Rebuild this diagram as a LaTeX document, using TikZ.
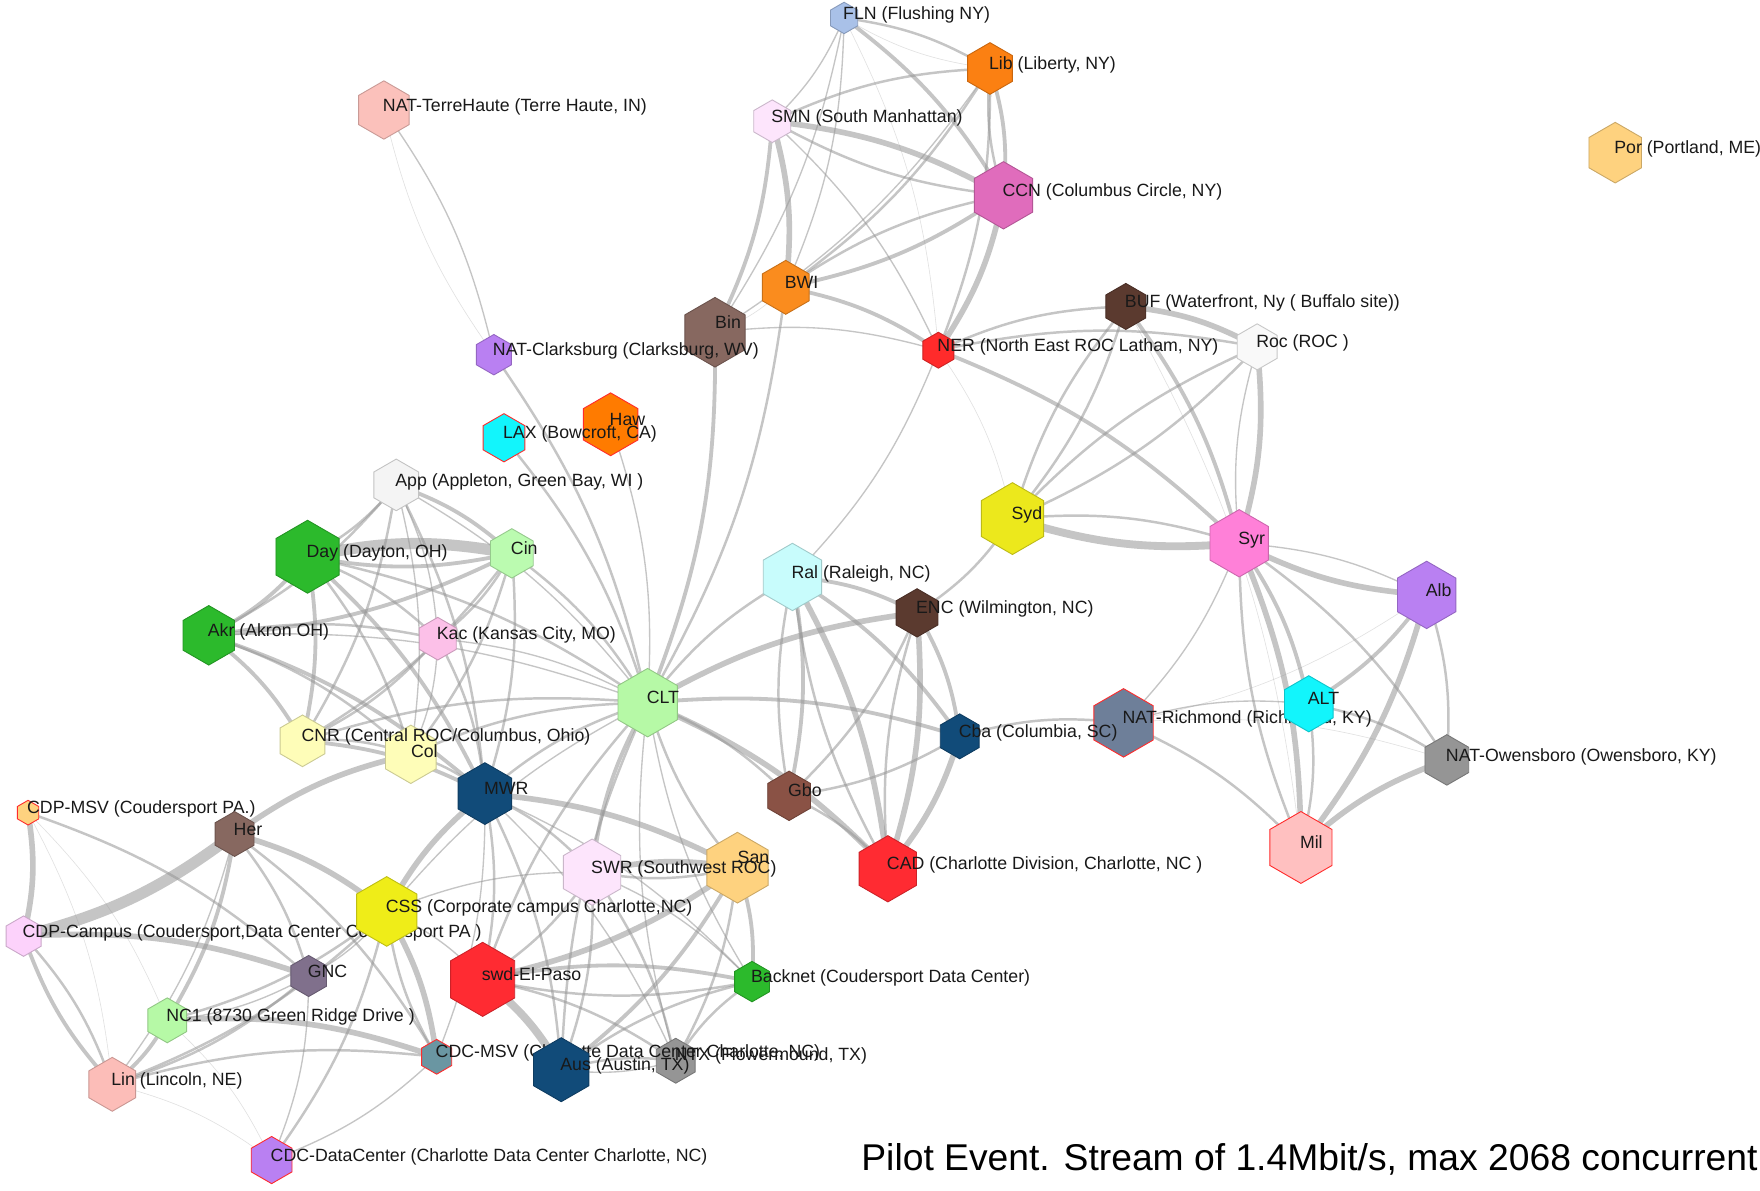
\documentclass[tikz,border=0pt]{standalone}
\usepackage{fontspec}
\setmainfont{Liberation Sans}
\definecolor{edgec}{RGB}{150,150,150}
\definecolor{redb}{HTML}{FF2B2B}
\definecolor{cFLN}{HTML}{A9C1E8}
\definecolor{cLib}{HTML}{FB8012}
\definecolor{cTerre}{HTML}{FBC1BB}
\definecolor{cSMN}{HTML}{FDE5FC}
\definecolor{cPor}{HTML}{FED27F}
\definecolor{cCCN}{HTML}{E06CBC}
\definecolor{cBWI}{HTML}{FA8C1E}
\definecolor{cBin}{HTML}{876860}
\definecolor{cBUF}{HTML}{5B3A2F}
\definecolor{cRoc}{HTML}{F9F9F9}
\definecolor{cNER}{HTML}{FF2B2B}
\definecolor{cPurp}{HTML}{B980F2}
\definecolor{cHaw}{HTML}{FF7B00}
\definecolor{cCyan}{HTML}{12F5FC}
\definecolor{cApp}{HTML}{F4F4F4}
\definecolor{cSyd}{HTML}{ECE81C}
\definecolor{cSyr}{HTML}{FF80D8}
\definecolor{cGreen}{HTML}{2CBA2C}
\definecolor{cCin}{HTML}{BBFBB0}
\definecolor{cRal}{HTML}{C8FCFC}
\definecolor{cKac}{HTML}{FCC0E8}
\definecolor{cCLT}{HTML}{B6F9A6}
\definecolor{cRich}{HTML}{6E7F99}
\definecolor{cBlue}{HTML}{114B79}
\definecolor{cGray}{HTML}{959595}
\definecolor{cYel}{HTML}{FEFDB8}
\definecolor{cGbo}{HTML}{8A5245}
\definecolor{cMil}{HTML}{FFC0C0}
\definecolor{cRed}{HTML}{FF2B32}
\definecolor{cCSS}{HTML}{EFED18}
\definecolor{cCamp}{HTML}{FCD2FB}
\definecolor{cGNC}{HTML}{80708C}
\definecolor{cMSV}{HTML}{6A96A2}
\definecolor{cLin}{HTML}{FCBDB8}
\newcommand\hx[4]{\filldraw[fill=#3, draw=#4, line width=0.8pt, shift={(#1)}] (90:#2) -- (150:#2) -- (210:#2) -- (270:#2) -- (330:#2) -- (30:#2) -- cycle;}
\newcommand\hn[3]{\hx{#1}{#2}{#3}{#3!80!black}}
\newcommand\hr[3]{\hx{#1}{#2}{#3}{redb}}
\newcommand\lb[2]{\node[lbl] (#1-l) at ([xshift=-1pt,yshift=-1pt]#1) {#2};}
\newcommand\E[3]{\draw[e#1] (#2) to[bend left=11] (#3);}
\begin{document}
\begin{tikzpicture}[x=1pt,y=-1pt,
  lbl/.style={font=\fontsize{15.8}{18}\selectfont, inner sep=0pt, anchor=base west, text=black!90},
  ed/.style={draw=edgec, line cap=round, opacity=0.55},
  eA/.style={ed, line width=0.5pt, opacity=0.3},
  eB/.style={ed, line width=1.2pt},
  eC/.style={ed, line width=2.2pt},
  eD/.style={ed, line width=3.4pt},
  eE/.style={ed, line width=5pt},
  eF/.style={ed, line width=7pt},
  eG/.style={ed, line width=10pt}]
\useasboundingbox (0,0) rectangle (1568,1061);
\fill[white] (0,0) rectangle (1568,1061);
% centres
\coordinate (FLN) at (752,16);
\coordinate (Lib) at (882,61);
\coordinate (Terre) at (342,98);
\coordinate (SMN) at (688,108);
\coordinate (Por) at (1439,136);
\coordinate (CCN) at (894,174);
\coordinate (BWI) at (700,256);
\coordinate (Bin) at (637,296);
\coordinate (BUF) at (1003,273);
\coordinate (Roc) at (1120,309);
\coordinate (NER) at (836,312);
\coordinate (Clarks) at (440,316);
\coordinate (Haw) at (544,378);
\coordinate (LAX) at (449,390);
\coordinate (App) at (353,432);
\coordinate (Syd) at (902,462);
\coordinate (Syr) at (1104,484);
\coordinate (Day) at (274,496);
\coordinate (Cin) at (456,493);
\coordinate (Ral) at (706,514);
\coordinate (Alb) at (1271,530);
\coordinate (ENC) at (817,546);
\coordinate (Akr) at (186,566);
\coordinate (Kac) at (390,569);
\coordinate (CLT) at (577,626);
\coordinate (ALT) at (1166,627);
\coordinate (Rich) at (1001,644);
\coordinate (Cba) at (855,656);
\coordinate (Owen) at (1289,677);
\coordinate (CNR) at (269.5,660);
\coordinate (Col) at (366,672);
\coordinate (MWR) at (432,707);
\coordinate (Gbo) at (703,709);
\coordinate (CDPMSV) at (25,724);
\coordinate (Her) at (209,743);
\coordinate (Mil) at (1159,755);
\coordinate (CAD) at (791,774);
\coordinate (SWR) at (527.5,777);
\coordinate (San) at (657,773);
\coordinate (CSS) at (344.5,812);
\coordinate (Camp) at (21,834);
\coordinate (GNC) at (275,869.5);
\coordinate (swd) at (430,872.5);
\coordinate (Back) at (670,874.5);
\coordinate (NC1) at (149,909);
\coordinate (CDCMSV) at (389,941.5);
\coordinate (Aus) at (500,953);
\coordinate (NTX) at (602,945);
\coordinate (Lin) at (100,966);
\coordinate (CDCDC) at (242,1033.5);
% edges: NY
\E{C}{FLN}{Lib} \E{A}{Lib}{FLN}
\E{B}{FLN}{SMN} \E{D}{FLN}{CCN} \E{B}{FLN}{BWI} \E{A}{FLN}{NER} \E{B}{FLN}{Bin}
\E{C}{SMN}{Lib} \E{D}{Lib}{CCN} \E{C}{CCN}{Lib} \E{C}{Lib}{BWI} \E{C}{Lib}{NER} \E{B}{Lib}{Bin}
\E{E}{SMN}{CCN} \E{C}{CCN}{SMN} \E{E}{SMN}{BWI} \E{B}{SMN}{NER} \E{D}{SMN}{Bin}
\E{D}{CCN}{BWI} \E{C}{BWI}{CCN} \E{E}{CCN}{NER} \E{D}{BWI}{NER} \E{A}{BWI}{Bin}
\E{C}{BWI}{CLT} \E{D}{Bin}{CLT} \E{B}{Bin}{NER}
\E{C}{NER}{Roc} \E{C}{NER}{BUF} \E{D}{NER}{Syr} \E{A}{NER}{Syd} \E{B}{NER}{Ral}
\E{E}{BUF}{Roc} \E{C}{BUF}{Syd} \E{C}{Syd}{BUF} \E{D}{BUF}{Syr} \E{A}{BUF}{Mil}
\E{C}{Roc}{Syd} \E{C}{Syd}{Roc} \E{E}{Roc}{Syr} \E{B}{Syr}{Roc}
\E{F}{Syr}{Syd} \E{C}{Syd}{Syr} \E{C}{Syd}{ENC}
\E{E}{Alb}{Syr} \E{B}{Syr}{Alb} \E{D}{Syr}{ALT} \E{E}{Syr}{Mil} \E{C}{Mil}{Syr}
\E{C}{Syr}{Owen} \E{B}{Syr}{Rich}
\E{D}{Alb}{ALT} \E{E}{Alb}{Mil} \E{C}{Alb}{Owen} \E{A}{Alb}{Rich}
\E{C}{ALT}{Mil} \E{C}{ALT}{Owen} \E{B}{Rich}{ALT} \E{C}{Rich}{Mil} \E{A}{Rich}{Owen}
\E{E}{Mil}{Owen} \E{C}{Cba}{Rich}
% NC
\E{C}{CLT}{Ral} \E{E}{CLT}{ENC} \E{D}{CLT}{Cba} \E{C}{CLT}{Gbo} \E{E}{CLT}{CAD}
\E{D}{Ral}{ENC} \E{D}{Ral}{Cba} \E{D}{Ral}{Gbo} \E{C}{Gbo}{Ral} \E{E}{Ral}{CAD} \E{C}{CAD}{Ral}
\E{D}{ENC}{Cba} \E{C}{ENC}{Gbo} \E{E}{ENC}{CAD} \E{C}{CAD}{ENC}
\E{C}{Cba}{Gbo} \E{E}{Cba}{CAD} \E{C}{Gbo}{CAD}
% Midwest
\E{C}{App}{Day} \E{D}{App}{Cin} \E{C}{App}{Akr} \E{B}{App}{Kac} \E{C}{App}{CNR} \E{B}{App}{Col} \E{C}{App}{MWR} \E{B}{App}{CLT}
\E{G}{Day}{Cin} \E{D}{Cin}{Day}
\E{D}{Day}{Akr} \E{C}{Day}{Kac} \E{D}{Day}{CNR} \E{C}{Day}{Col} \E{D}{Day}{MWR} \E{C}{Day}{CLT}
\E{D}{Cin}{Akr} \E{C}{Cin}{Kac} \E{C}{Cin}{CNR} \E{C}{Cin}{Col} \E{C}{Cin}{MWR} \E{C}{Cin}{CLT}
\E{C}{Akr}{Kac} \E{D}{Akr}{CNR} \E{C}{Akr}{Col} \E{D}{Akr}{MWR} \E{B}{Akr}{CLT}
\E{C}{Kac}{CNR} \E{B}{Kac}{Col} \E{C}{Kac}{MWR} \E{B}{Kac}{CLT}
\E{C}{CNR}{Col} \E{D}{CNR}{MWR} \E{C}{CNR}{CLT}
\E{C}{Col}{MWR} \E{C}{Col}{CLT} \E{C}{MWR}{CLT}
\E{C}{Clarks}{CLT} \E{C}{LAX}{CLT} \E{B}{Haw}{CLT} \E{B}{Terre}{Clarks} \E{A}{Clarks}{Terre}
% South / West
\E{E}{CDPMSV}{Camp} \E{C}{CDPMSV}{GNC} \E{A}{CDPMSV}{Lin} \E{A}{CDPMSV}{NC1}
\E{G}{Her}{Camp} \E{E}{Her}{Col} \E{E}{Her}{CSS} \E{C}{Her}{GNC} \E{D}{Her}{NC1} \E{B}{Her}{Lin} \E{C}{Her}{CDCMSV}
\E{E}{Camp}{GNC} \E{C}{Camp}{Lin} \E{D}{Lin}{Camp}
\E{B}{CSS}{GNC} \E{C}{CSS}{NC1} \E{C}{CSS}{Lin} \E{E}{CSS}{CDCMSV} \E{C}{CDCMSV}{CSS} \E{C}{CSS}{CDCDC}
\E{E}{CSS}{MWR} \E{B}{CSS}{swd} \E{B}{CSS}{SWR} \E{B}{CSS}{CLT}
\E{B}{GNC}{NC1} \E{C}{GNC}{Lin} \E{B}{GNC}{CDCDC}
\E{E}{NC1}{CDCMSV} \E{D}{NC1}{Lin} \E{A}{NC1}{CDCDC}
\E{C}{Lin}{CDCMSV} \E{A}{Lin}{CDCDC} \E{B}{CDCMSV}{CDCDC}
\E{C}{MWR}{swd} \E{C}{MWR}{SWR} \E{E}{MWR}{San} \E{C}{MWR}{Aus} \E{B}{MWR}{NTX} \E{B}{MWR}{Back} \E{B}{MWR}{CDCMSV}
\E{E}{SWR}{San} \E{C}{San}{SWR} \E{C}{SWR}{swd} \E{C}{SWR}{Aus} \E{C}{SWR}{NTX} \E{B}{SWR}{Back} \E{D}{SWR}{CLT}
\E{E}{San}{swd} \E{D}{San}{Aus} \E{C}{San}{NTX} \E{D}{San}{Back} \E{C}{San}{CLT}
\E{F}{swd}{Aus} \E{C}{swd}{NTX} \E{D}{swd}{Back} \E{C}{Back}{swd} \E{C}{swd}{CLT}
\E{C}{Aus}{NTX} \E{B}{NTX}{Aus} \E{C}{Aus}{Back} \E{C}{Aus}{CLT}
\E{C}{NTX}{Back} \E{B}{NTX}{CLT} \E{B}{Back}{CLT}
% nodes
\hn{FLN}{14}{cFLN} \lb{FLN}{FLN (Flushing NY)}
\hn{Lib}{23}{cLib} \lb{Lib}{Lib (Liberty, NY)}
\hn{Terre}{26}{cTerre} \lb{Terre}{NAT-TerreHaute (Terre Haute, IN)}
\hn{SMN}{19}{cSMN} \lb{SMN}{SMN (South Manhattan)}
\hn{Por}{27}{cPor} \lb{Por}{Por (Portland, ME)}
\hn{CCN}{30}{cCCN} \lb{CCN}{CCN (Columbus Circle, NY)}
\hn{BWI}{24}{cBWI} \lb{BWI}{BWI}
\hn{Bin}{31}{cBin} \node[lbl] (Bin-l) at ([yshift=3pt]Bin) {Bin};
\hn{BUF}{20.5}{cBUF} \lb{BUF}{BUF (Waterfront, Ny ( Buffalo site))}
\hn{Roc}{20.5}{cRoc} \lb{Roc}{Roc (ROC )}
\hn{NER}{16}{cNER} \lb{NER}{NER (North East ROC Latham, NY)}
\hn{Clarks}{18}{cPurp} \lb{Clarks}{NAT-Clarksburg (Clarksburg, WV)}
\hr{Haw}{28}{cHaw} \lb{Haw}{Haw}
\hr{LAX}{21.5}{cCyan} \lb{LAX}{LAX (Bowcroft, CA)}
\hn{App}{23}{cApp} \lb{App}{App (Appleton, Green Bay, WI )}
\hn{Syd}{32}{cSyd} \lb{Syd}{Syd}
\hn{Syr}{30}{cSyr} \lb{Syr}{Syr}
\hn{Day}{32.5}{cGreen} \lb{Day}{Day (Dayton, OH)}
\hn{Cin}{22}{cCin} \lb{Cin}{Cin}
\hn{Ral}{30}{cRal} \lb{Ral}{Ral (Raleigh, NC)}
\hn{Alb}{30}{cPurp} \lb{Alb}{Alb}
\hn{ENC}{21.5}{cBUF} \lb{ENC}{ENC (Wilmington, NC)}
\hn{Akr}{26.5}{cGreen} \lb{Akr}{Akr (Akron OH)}
\hn{Kac}{19}{cKac} \lb{Kac}{Kac (Kansas City, MO)}
\hn{CLT}{30.5}{cCLT} \lb{CLT}{CLT}
\hr{Rich}{30.5}{cRich} \lb{Rich}{NAT-Richmond (Richmond, KY)}
\hn{Cba}{20}{cBlue} \lb{Cba}{Cba (Columbia, SC)}
\hn{ALT}{25}{cCyan} \lb{ALT}{ALT}
\hn{Owen}{22.5}{cGray} \lb{Owen}{NAT-Owensboro (Owensboro, KY)}
\hn{Col}{26}{cYel} \node[lbl] (Col-l) at ([yshift=-3pt]Col) {Col};
\hn{CNR}{23}{cYel} \lb{CNR}{CNR (Central ROC/Columbus, Ohio)}
\hn{MWR}{27.5}{cBlue} \lb{MWR}{MWR}
\hn{Gbo}{22}{cGbo} \lb{Gbo}{Gbo}
\hr{CDPMSV}{11}{cPor} \lb{CDPMSV}{CDP-MSV (Coudersport PA.)}
\hn{Her}{20}{cBin} \lb{Her}{Her}
\hr{Mil}{32}{cMil} \lb{Mil}{Mil}
\hn{CAD}{29.5}{cRed} \lb{CAD}{CAD (Charlotte Division, Charlotte, NC )}
\hn{San}{31.5}{cPor} \node[lbl] (San-l) at ([yshift=4pt]San) {San};
\hn{SWR}{29.5}{cSMN} \lb{SWR}{SWR (Southwest ROC)}
\hn{Camp}{18}{cCamp} \lb{Camp}{CDP-Campus (Coudersport,Data Center Coudersport PA )}
\hn{CSS}{31}{cCSS} \lb{CSS}{CSS (Corporate campus Charlotte,NC)}
\hn{GNC}{18.3}{cGNC} \lb{GNC}{GNC}
\hn{swd}{33}{cRed} \lb{swd}{swd-El-Paso}
\hn{Back}{18}{cGreen} \lb{Back}{Backnet (Coudersport Data Center)}
\hn{NC1}{20}{cCLT} \lb{NC1}{NC1 (8730 Green Ridge Drive )}
\hn{NTX}{20}{cGray} \node[lbl] (NTX-l) at ([xshift=-1pt,yshift=0pt]NTX) {NTX (Flowermound, TX)};
\hr{CDCMSV}{15.5}{cMSV} \lb{CDCMSV}{CDC-MSV (Charlotte Data Center Charlotte, NC)}
\hn{Aus}{28.5}{cBlue} \lb{Aus}{Aus (Austin, TX)}
\hn{Lin}{24}{cLin} \lb{Lin}{Lin (Lincoln, NE)}
\hr{CDCDC}{21}{cPurp} \lb{CDCDC}{CDC-DataCenter (Charlotte Data Center Charlotte, NC)}
\node[anchor=base east, inner sep=0pt, font=\fontsize{33.2}{40}\selectfont] (title) at (1566,1043) {Pilot Event. Stream of 1.4Mbit/s, max 2068 concurrent};
\end{tikzpicture}
\end{document}
